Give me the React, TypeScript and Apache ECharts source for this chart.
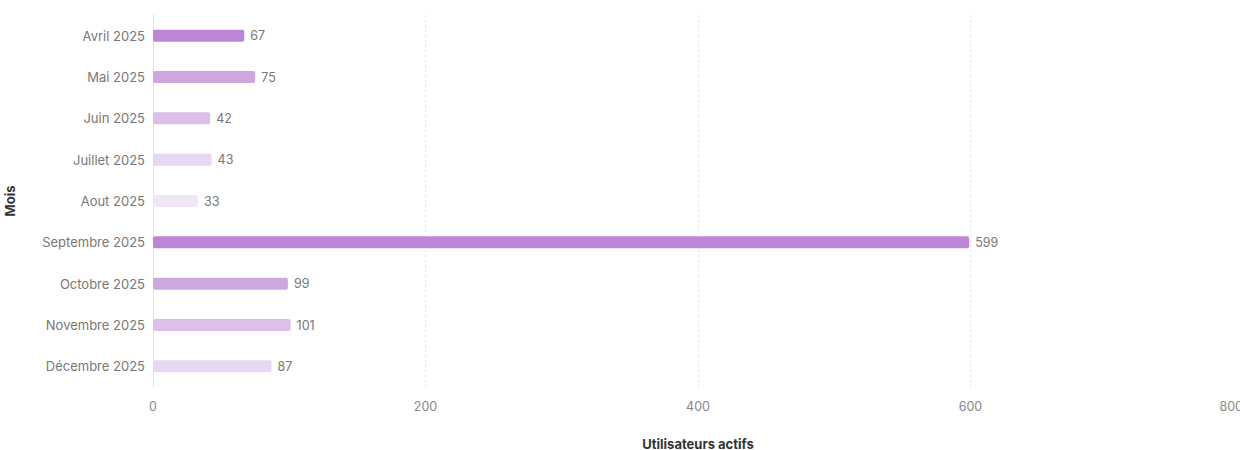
import React, { useEffect, useRef } from "react";
import * as echarts from "echarts";

const months = [
  "Avril 2025",
  "Mai 2025",
  "Juin 2025",
  "Juillet 2025",
  "Aout 2025",
  "Septembre 2025",
  "Octobre 2025",
  "Novembre 2025",
  "Décembre 2025",
];
const activeUsers = [67, 75, 42, 43, 33, 599, 99, 101, 87];
const barColors = [
  "#bd86d5",
  "#cfa7df",
  "#dbc0eb",
  "#e8d7f1",
  "#f1e6f6",
  "#bd86d5",
  "#cfa7df",
  "#dbc0eb",
  "#e8d7f1",
];
const xTicks = { min: 0, max: 800, interval: 200 };

const FONT = "Inter, 'Noto Sans', sans-serif";

export default function App() {
  const ref = useRef<HTMLDivElement>(null);
  useEffect(() => {
    if (!ref.current) return;
    const chart = echarts.init(ref.current, undefined, { renderer: "svg" });
    chart.setOption({
      animation: false,
      textStyle: { fontFamily: FONT },
      grid: {
        left: 153,
        right: 17,
        top: 15,
        bottom: 63,
        containLabel: false,
        outerBoundsMode: "none",
      },
      xAxis: {
        type: "value",
        min: xTicks.min,
        max: xTicks.max,
        interval: xTicks.interval,
        name: "Utilisateurs actifs",
        nameLocation: "middle",
        nameGap: 50,
        nameTextStyle: { fontFamily: FONT, fontSize: 13, fontWeight: "bold", color: "#333" },
        axisLine: { show: false },
        axisTick: { show: false },
        axisLabel: {
          color: "#888",
          fontSize: 12.5,
          margin: 13,
          fontFamily: FONT,
          alignMaxLabel: "right",
        },
        splitLine: { show: true, lineStyle: { color: "#e2e2e2", type: [2, 3], width: 1 } },
      },
      yAxis: {
        type: "category",
        data: months,
        inverse: true,
        name: "Mois",
        nameLocation: "middle",
        nameGap: 137,
        nameTextStyle: { fontFamily: FONT, fontSize: 13, fontWeight: "bold", color: "#333" },
        axisLine: { show: true, lineStyle: { color: "#e0e0e0", width: 1 } },
        axisTick: { show: false },
        axisLabel: { color: "#777", fontSize: 13, margin: 8, fontFamily: FONT },
        splitLine: { show: false },
      },
      series: [
        {
          type: "bar",
          data: activeUsers.map((v, i) => ({ value: v, itemStyle: { color: barColors[i] } })),
          barWidth: 12,
          itemStyle: { borderRadius: 2 },
          label: {
            show: true,
            position: "right",
            distance: 6,
            color: "#777",
            fontSize: 12.5,
            fontFamily: FONT,
          },
        },
      ],
    });
    return () => chart.dispose();
  }, []);
  return (
    <div
      style={{
        position: "fixed",
        left: 0,
        top: 0,
        width: 1240,
        height: 450,
        overflow: "hidden",
        background: "#fff",
      }}
    >
      <div ref={ref} style={{ width: 1260, height: 450 }} />
    </div>
  );
}
